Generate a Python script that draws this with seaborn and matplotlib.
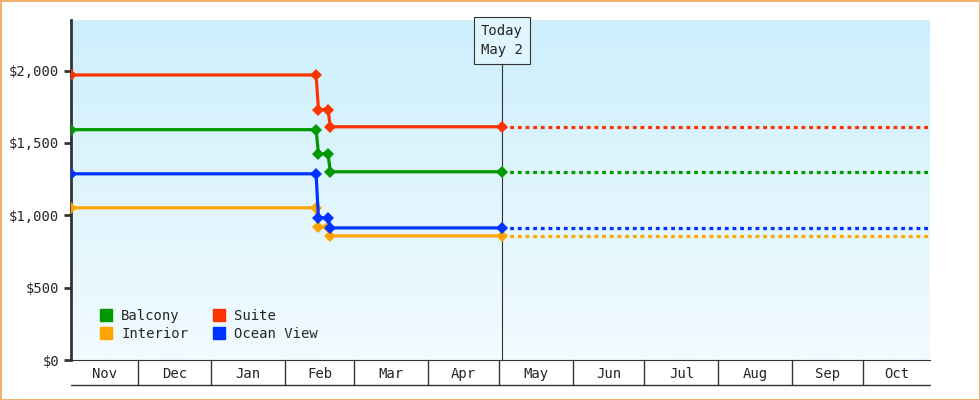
import datetime as dt
import matplotlib
matplotlib.use("Agg")
import matplotlib.pyplot as plt
import matplotlib.dates as mdates
import matplotlib.transforms as mtrans
import numpy as np
import pandas as pd
import seaborn as sns

sns.set_style("white")
plt.rcParams['font.family'] = ['DejaVu Sans Mono']

dates = ["2023-11-03", "2024-02-14", "2024-02-15", "2024-02-19", "2024-02-20", "2024-05-02"]
suite = [1970, 1970, 1730, 1730, 1612, 1612]
balcony = [1592, 1592, 1425, 1425, 1301, 1301]
ocean_view = [1287, 1287, 983, 983, 913, 913]
interior = [1052, 1052, 920, 920, 858, 858]
months = ["Nov", "Dec", "Jan", "Feb", "Mar", "Apr", "May", "Jun", "Jul", "Aug", "Sep", "Oct"]
today = "2024-05-02"
end = "2024-10-29"

series = {"Balcony": (balcony, "#009900"), "Interior": (interior, "#ffa500"),
          "Suite": (suite, "#ff3300"), "Ocean View": (ocean_view, "#0033ff")}

fig = plt.figure(figsize=(9.8, 4), dpi=100)
fig.patch.set_edgecolor("#f0b070")
fig.patch.set_linewidth(2)
ax = fig.add_axes([71 / 980, 0.1, (930 - 71) / 980, 0.85])

x0 = mdates.date2num(pd.Timestamp(dates[0]))
x1 = mdates.date2num(pd.Timestamp(end))
grad = np.linspace(0, 1, 256).reshape(-1, 1)
cmap = matplotlib.colors.LinearSegmentedColormap.from_list("bg", ["#cdeffc", "#f2fbff"])
ax.imshow(grad, aspect="auto", cmap=cmap, extent=[x0, x1, 0, 2350], origin="upper", zorder=0)

for name in ["Interior", "Ocean View", "Balcony", "Suite"]:
    vals, col = series[name]
    df = pd.DataFrame({"date": pd.to_datetime(dates), "price": vals})
    sns.lineplot(data=df, x="date", y="price", color=col, lw=2.3, marker="D",
                 markersize=6, markeredgewidth=0, ax=ax, zorder=3)
    ax.plot([pd.Timestamp(today), pd.Timestamp(end)], [vals[-1], vals[-1]],
            color=col, lw=2.3, ls=(0, (1.2, 1.2)), zorder=3)

ax.set_xlim(x0, x1)
ax.set_ylim(0, 2350)
ax.set_aspect("auto")
ax.set_xlabel("")
ax.set_ylabel("")
ax.set_yticks([0, 500, 1000, 1500, 2000])
ax.set_yticklabels(["$0", "$500", "$1,000", "$1,500", "$2,000"], fontsize=10)
ax.tick_params(axis="y", length=5, width=2, color="#333333", left=True)
ax.set_xticks([])
for s in ["top", "right"]:
    ax.spines[s].set_visible(False)
ax.spines["left"].set_linewidth(2)
ax.spines["left"].set_color("#333333")
ax.spines["bottom"].set_color("#333333")

# today marker
tx = mdates.date2num(pd.Timestamp(today))
ax.axvline(tx, color="#333333", lw=0.8, zorder=2)
ax.text(tx, 2320, "Today\nMay 2", ha="center", va="top", fontsize=10, linespacing=1.4,
        bbox=dict(boxstyle="square,pad=0.5", fc="#e0f6fe", ec="#333333", lw=0.8), zorder=5)

# month table
trans = mtrans.blended_transform_factory(ax.transData, ax.transAxes)
bounds = [pd.Timestamp("2023-11-03")] + [pd.Timestamp(f"{2023 if i < 2 else 2024}-{(10 + i) % 12 + 1:02d}-01") for i in range(1, 12)] + [pd.Timestamp(end)]
for i, m in enumerate(months):
    a, b = mdates.date2num(bounds[i]), mdates.date2num(bounds[i + 1])
    ax.text((a + b) / 2, -0.04, m, transform=trans, ha="center", va="center", fontsize=10)
    if 0 < i:
        ax.plot([a, a], [0, -0.074], transform=trans, color="#333333", lw=1, clip_on=False)
ax.plot([x0, x1], [-0.074, -0.074], transform=trans, color="#333333", lw=1, clip_on=False)

handles = [plt.Line2D([], [], marker="s", ls="", color=series[n][1], markersize=9) for n in series]
ax.legend(handles, list(series), ncol=2, loc="lower left", bbox_to_anchor=(0.01, 0.02),
          frameon=False, fontsize=10, handletextpad=0.1, columnspacing=1.2, labelspacing=0.3)

fig.savefig("out.png", dpi=100)
